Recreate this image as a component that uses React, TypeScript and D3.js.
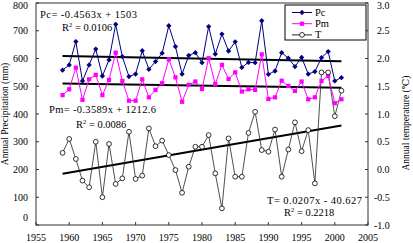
import { useEffect, useRef } from "react";
import * as d3 from "d3";

const years = [
  1959, 1960, 1961, 1962, 1963, 1964, 1965, 1966, 1967, 1968, 1969, 1970, 1971,
  1972, 1973, 1974, 1975, 1976, 1977, 1978, 1979, 1980, 1981, 1982, 1983, 1984,
  1985, 1986, 1987, 1988, 1989, 1990, 1991, 1992, 1993, 1994, 1995, 1996, 1997,
  1998, 1999, 2000, 2001,
];
const pcValues = [
  558, 577, 661, 519, 577, 634, 537, 595, 723, 607, 535, 544, 628, 561, 589,
  619, 718, 643, 544, 611, 621, 585, 715, 616, 688, 627, 660, 568, 586,
  585, 736, 543, 555, 621, 601, 571, 604, 544, 553, 603, 625, 519, 531,
];
const pmValues = [
  468, 489, 567, 451, 525, 541, 468, 523, 621, 519, 448, 448, 525, 460, 487,
  511, 597, 532, 444, 505, 517, 490, 601, 508, 577, 526, 550, 481, 489,
  487, 615, 454, 460, 520, 501, 483, 517, 453, 460, 519, 537, 439, 453,
];
const tValues = [
  0.3, 0.55, 0.19, -0.2, -0.32, 0.5, -0.5, 0.46, -0.26, -0.16, 0.68, -0.17,
  -0.11, 0.74, 0.42, 0.52, 0.26, -0.01, -0.42, 0.05, 0.41, 0.41, 0.62, -0.07,
  -0.7, 0.56, -0.13, -0.13, 0.66, 1.04, 0.35, 0.32, 0.72, -0.13, 0.36, 0.85,
  0.33, 0.71, -0.25, 1.75, 1.75, 0.96, 1.42,
];

const xTicks = [1955, 1960, 1965, 1970, 1975, 1980, 1985, 1990, 1995, 2000, 2005];
const leftTicks = [0, 100, 200, 300, 400, 500, 600, 700, 800];
const rightTicks = [-1, -0.5, 0, 0.5, 1, 1.5, 2, 2.5, 3];

// trend lines as printed on the chart: y = slope * year + intercept
const trendNames = ["Pc", "Pm", "T"];
const trendSlopes = [-0.4563, -0.3589, 0.0207];
const trendIntercepts = [1503, 1212.6, -40.627];
const trendLabels = ["Pc= -0.4563x + 1503", "Pm= -0.3589x + 1212.6", "T= 0.0207x - 40.627"];
const r2Labels = ["0.0106", "0.0086", "0.2218"];

const W = 413;
const H = 243;
const font = "'Liberation Serif', 'DejaVu Serif', serif";

export default function App() {
  const ref = useRef<SVGSVGElement>(null);

  useEffect(() => {
    const svg = d3.select(ref.current);
    svg.selectAll("*").remove();

    const left = 36,
      right = 368,
      top = 3,
      bottom = 225;

    const x = d3.scaleLinear().domain([1955, 2005]).range([left, right]);
    const yP = d3.scaleLinear().domain([0, 800]).range([bottom, top]);
    const yT = d3.scaleLinear().domain([-1, 3]).range([bottom, top]);

    svg.append("rect").attr("width", W).attr("height", H).attr("fill", "#fff");

    // frame
    svg
      .append("rect")
      .attr("x", left)
      .attr("y", top)
      .attr("width", right - left)
      .attr("height", bottom - top)
      .attr("fill", "none")
      .attr("stroke", "#333")
      .attr("stroke-width", 1);

    // bottom axis
    const bx = svg.append("g").attr("font-family", font).attr("font-size", 10);
    xTicks.forEach((t) => {
      bx.append("line")
        .attr("x1", x(t)).attr("x2", x(t))
        .attr("y1", bottom).attr("y2", bottom - 3)
        .attr("stroke", "#333");
      bx.append("text")
        .attr("x", x(t)).attr("y", 241)
        .attr("text-anchor", "middle")
        .text(t);
    });

    // left axis
    const lx = svg.append("g").attr("font-family", font).attr("font-size", 10);
    leftTicks.forEach((t) => {
      lx.append("line")
        .attr("x1", left).attr("x2", left + 3)
        .attr("y1", yP(t)).attr("y2", yP(t))
        .attr("stroke", "#333");
      const ty = t === 0 ? yP(t) - 8 : yP(t);
      lx.append("text")
        .attr("x", 28)
        .attr("y", Math.max(ty + 3.5, 8.5))
        .attr("text-anchor", "end")
        .text(t);
    });

    // right axis
    const rx = svg.append("g").attr("font-family", font).attr("font-size", 10);
    rightTicks.forEach((t) => {
      rx.append("line")
        .attr("x1", right).attr("x2", right - 3)
        .attr("y1", yT(t)).attr("y2", yT(t))
        .attr("stroke", "#333");
      rx.append("text")
        .attr("x", t < 0 ? 374 : 377)
        .attr("y", Math.max(yT(t) + 3.5, 8.5))
        .text(d3.format(".1f")(t).replace("−", "-"));
    });

    svg.append("text")
      .attr("transform", `translate(8,114) rotate(-90)`)
      .attr("text-anchor", "middle")
      .attr("font-family", font)
      .attr("font-size", 9.5)
      .text("Annual Precipitation (mm)");
    svg.append("text")
      .attr("transform", `translate(409,123) rotate(-90)`)
      .attr("text-anchor", "middle")
      .attr("font-family", font)
      .attr("font-size", 9.5)
      .text("Annual temperature (℃)");

    // trend lines
    const trendScales = [yP, yP, yT];
    trendNames.forEach((_, i) => {
      const x0 = years[0],
        x1 = years[years.length - 1];
      svg.append("line")
        .attr("x1", x(x0))
        .attr("x2", x(x1))
        .attr("y1", trendScales[i](trendSlopes[i] * x0 + trendIntercepts[i]))
        .attr("y2", trendScales[i](trendSlopes[i] * x1 + trendIntercepts[i]))
        .attr("stroke", "#000")
        .attr("stroke-width", 2);
    });

    // series
    const pLine = d3.line<number>().x((_, i) => x(years[i])).y((d) => yP(d));
    const tLine = d3.line<number>().x((_, i) => x(years[i])).y((d) => yT(d));

    svg.append("path").datum(tValues).attr("d", tLine)
      .attr("fill", "none").attr("stroke", "#222").attr("stroke-width", 0.8);
    svg.append("path").datum(pmValues).attr("d", pLine)
      .attr("fill", "none").attr("stroke", "#ff00ff").attr("stroke-width", 1);
    svg.append("path").datum(pcValues).attr("d", pLine)
      .attr("fill", "none").attr("stroke", "#000080").attr("stroke-width", 1);

    const square = d3.symbol(d3.symbolSquare, 18)();
    const diamond = d3.symbol(d3.symbolSquare, 14)();

    svg.selectAll("path.pm").data(pmValues).enter().append("path")
      .attr("class", "pm")
      .attr("d", square)
      .attr("transform", (d, i) => `translate(${x(years[i])},${yP(d)})`)
      .attr("fill", "#ff00ff");
    svg.selectAll("path.pc").data(pcValues).enter().append("path")
      .attr("class", "pc")
      .attr("d", diamond)
      .attr("transform", (d, i) => `translate(${x(years[i])},${yP(d)}) rotate(45)`)
      .attr("fill", "#000080");
    svg.selectAll("circle.t").data(tValues).enter().append("circle")
      .attr("class", "t")
      .attr("cx", (_, i) => x(years[i]))
      .attr("cy", (d) => yT(d))
      .attr("r", 2.4)
      .attr("fill", "#fff")
      .attr("stroke", "#000")
      .attr("stroke-width", 0.8);

    // equations
    const eqPos = [
      { x: 40, y: 17.5, w: 97, rx: 62, ry: 31 },
      { x: 49, y: 112.5, w: 107, rx: 76, ry: 127.5 },
      { x: 267, y: 203.5, w: 95, rx: 284, ry: 216 },
    ];
    const eq = svg.append("g").attr("font-family", font).attr("font-size", 10.5);
    trendLabels.forEach((lab, i) => {
      const p = eqPos[i];
      eq.append("text")
        .attr("x", p.x).attr("y", p.y)
        .attr("textLength", p.w).attr("lengthAdjust", "spacing")
        .text(lab);
      const r = eq.append("text").attr("x", p.rx).attr("y", p.ry);
      r.append("tspan").text("R");
      r.append("tspan").attr("font-size", 6.5).attr("dy", -4).text("2");
      r.append("tspan").attr("dy", 4).text(" = " + r2Labels[i]);
    });

    // legend
    const lg = svg.append("g").attr("font-family", font).attr("font-size", 10.5);
    lg.append("rect")
      .attr("x", 285).attr("y", 5).attr("width", 81).attr("height", 35)
      .attr("fill", "#fff").attr("stroke", "#000").attr("stroke-width", 1);
    const legColors = ["#000080", "#ff00ff", "#222"];
    trendNames.forEach((name, i) => {
      const ly = 12.5 + i * 11.2;
      lg.append("line")
        .attr("x1", 292).attr("x2", 312).attr("y1", ly).attr("y2", ly)
        .attr("stroke", legColors[i]).attr("stroke-width", 1);
      if (i === 0) {
        lg.append("path").attr("d", diamond)
          .attr("transform", `translate(302,${ly}) rotate(45)`).attr("fill", legColors[i]);
      } else if (i === 1) {
        lg.append("path").attr("d", square)
          .attr("transform", `translate(302,${ly})`).attr("fill", legColors[i]);
      } else {
        lg.append("circle").attr("cx", 302).attr("cy", ly).attr("r", 2.4)
          .attr("fill", "#fff").attr("stroke", "#000").attr("stroke-width", 0.8);
      }
      lg.append("text").attr("x", 315).attr("y", ly + 3.5).text(name);
    });
  }, []);

  return (
    <svg
      ref={ref}
      width={W}
      height={H}
      style={{ position: "absolute", left: 0, top: 0 }}
    />
  );
}
